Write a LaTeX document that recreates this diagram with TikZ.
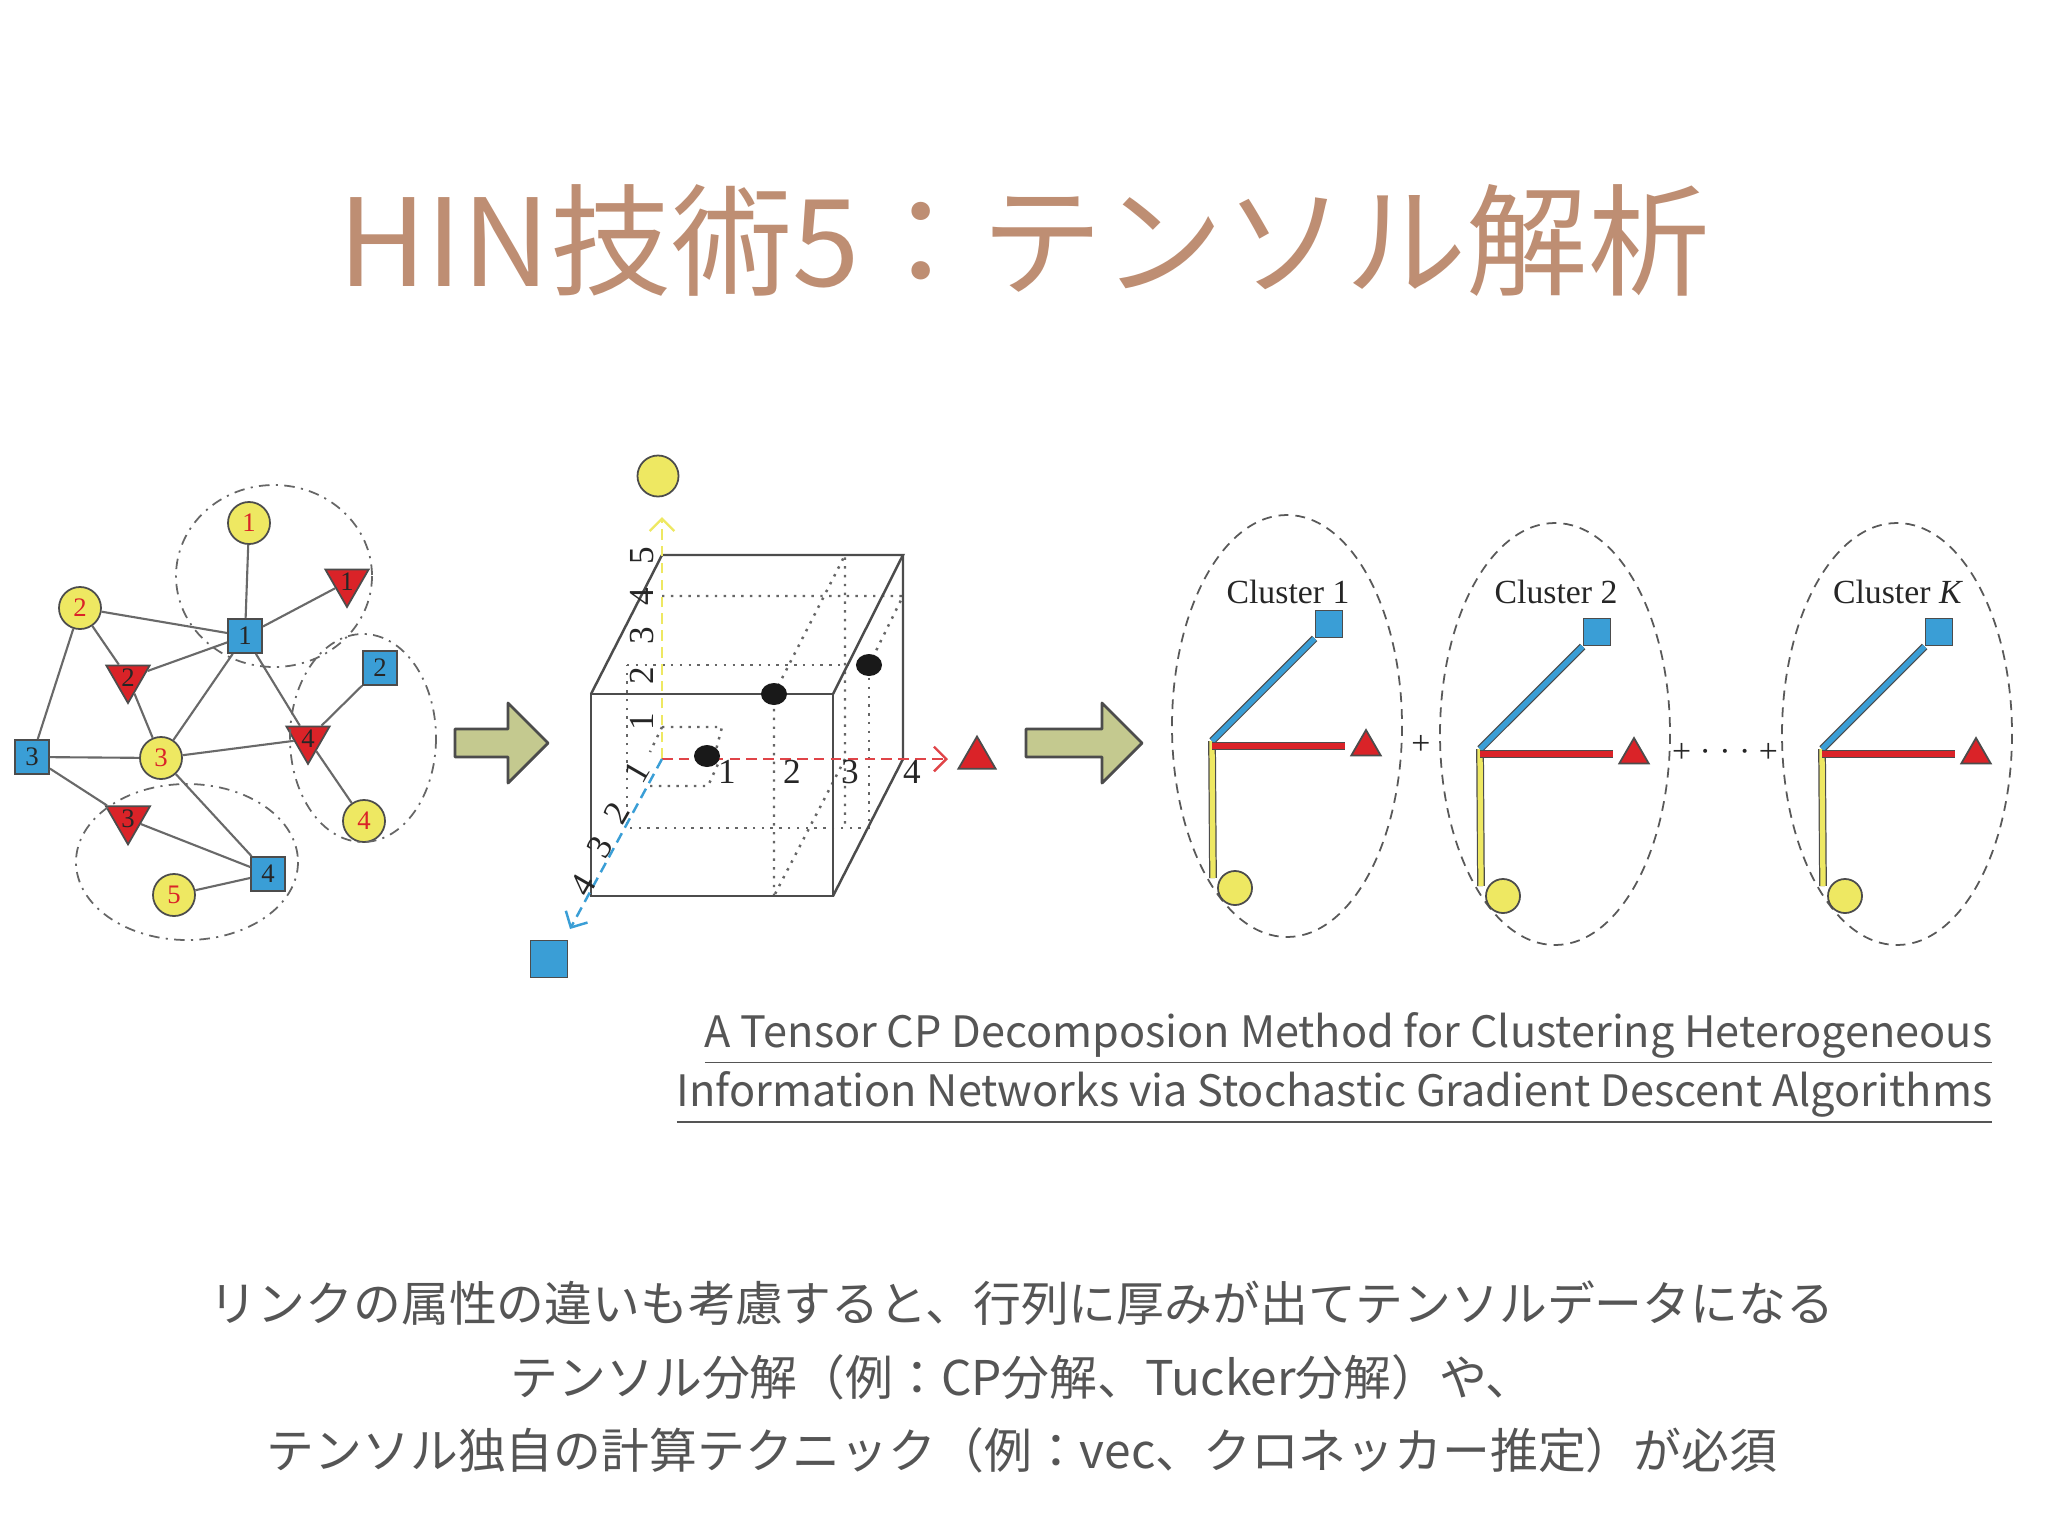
\documentclass[tikz,border=0pt]{standalone}
\usepackage{fontspec}
\setmainfont{Noto Sans CJK JP}
\newfontfamily\figserif{Liberation Serif}
\usetikzlibrary{arrows.meta,shapes.geometric}
\definecolor{titlebrown}{RGB}{190,142,115}
\definecolor{textgray}{RGB}{85,85,85}
\definecolor{nodeyellow}{RGB}{238,232,98}
\definecolor{nodeblue}{RGB}{58,158,214}
\definecolor{nodered}{RGB}{218,35,40}
\definecolor{arrowgreen}{RGB}{196,201,143}
\definecolor{edgegray}{RGB}{105,105,105}

\begin{document}
\begin{tikzpicture}[
    x=0.01cm, y=-0.01cm,
    title/.style={text=titlebrown, inner sep=0pt, font=\fontsize{34.5}{40}\selectfont},
    body/.style={text=textgray, align=center, inner sep=0pt, font=\fontsize{13.6}{20.8}\selectfont},
    ref/.style={text=textgray, align=right, anchor=east, inner sep=0pt, font=\fontsize{12.3}{16.8}\selectfont},
    circ/.style={circle, draw=black!70, fill=nodeyellow, line width=0.5pt, inner sep=0pt, minimum size=0.42cm, text=nodered, font=\figserif\fontsize{7.6}{8}\selectfont},
    sq/.style={rectangle, draw=black!70, fill=nodeblue, line width=0.5pt, inner sep=0pt, minimum size=0.34cm, text=black!85, font=\figserif\fontsize{7.6}{8}\selectfont},
    tri/.style={regular polygon, regular polygon sides=3, shape border rotate=180, draw=black!70, fill=nodered, line width=0.5pt, inner sep=0pt, minimum size=0.38cm, text=black!85, font=\figserif\fontsize{7.6}{8}\selectfont},
    edge/.style={draw=edgegray, line width=0.6pt},
    group/.style={draw=black!60, line width=0.5pt, dash pattern=on 3pt off 1.8pt on 0.6pt off 1.8pt},
    bigarrow/.style={draw=black!70, fill=arrowgreen, line width=0.8pt, line join=round},
    cube/.style={draw=black!70, line width=0.7pt},
    grid/.style={draw=black!60, line width=0.7pt, dash pattern=on 0.7pt off 1.8pt},
    axis/.style={line width=0.7pt, dash pattern=on 3pt off 1.8pt, -{Straight Barb[length=3.5pt, width=7pt]}},
    dot/.style={ellipse, fill=black!90, inner sep=0pt, minimum width=0.26cm, minimum height=0.22cm},
    tick/.style={inner sep=0pt, text=black!85, font=\figserif\fontsize{10}{11}\selectfont},
    clus/.style={draw=black!65, line width=0.5pt, dash pattern=on 2.8pt off 2pt},
    clabel/.style={inner sep=0pt, text=black!85, font=\figserif\fontsize{9.6}{11}\selectfont},
    csq/.style={rectangle, draw=black!70, fill=nodeblue, line width=0.5pt, inner sep=0pt, minimum size=0.27cm},
    ctri/.style={regular polygon, regular polygon sides=3, draw=black!70, fill=nodered, line width=0.5pt, inner sep=0pt, minimum size=0.34cm},
    ccirc/.style={circle, draw=black!70, fill=nodeyellow, line width=0.5pt, inner sep=0pt, minimum size=0.34cm},
    bar/.style={draw=black!70, line width=0.35pt, double=#1, double distance=1.5pt}
  ]
  \useasboundingbox (0,0) rectangle (2048,1536);
  \fill[white] (0,0) rectangle (2048,1536);

  \node[title] (title) at (1024,240) {HIN技術5：テンソル解析};

  \node[circ] (c1) at (249,523) {1};
  \node[circ] (c2) at (80,608) {2};
  \node[circ] (c3) at (161,758) {3};
  \node[circ] (c4) at (364,821) {4};
  \node[circ] (c5) at (174,895) {5};
  \node[sq] (s1) at (245,636) {1};
  \node[sq] (s2) at (380,668) {2};
  \node[sq] (s3) at (32,757) {3};
  \node[sq] (s4) at (268,874) {4};
  \node[tri] (t1) at (347,582) {1};
  \node[tri] (t2) at (128,678) {2};
  \node[tri] (t3) at (128,819) {3};
  \node[tri] (t4) at (308,739) {4};

  \draw[edge] (c1) -- (s1);
  \draw[edge] (c2) -- (s1);
  \draw[edge] (s1) -- (t1);
  \draw[edge] (t2) -- (s1);
  \draw[edge] (c2) -- (t2);
  \draw[edge] (t2) -- (c3);
  \draw[edge] (c2) -- (s3);
  \draw[edge] (s1) -- (c3);
  \draw[edge] (s1) -- (t4);
  \draw[edge] (s2) -- (t4);
  \draw[edge] (t4) -- (c4);
  \draw[edge] (s3) -- (c3);
  \draw[edge] (c3) -- (t4);
  \draw[edge] (s3) -- (t3);
  \draw[edge] (t3) -- (s4);
  \draw[edge] (c3) -- (s4);
  \draw[edge] (c5) -- (s4);

  \draw[group] (274,576) ellipse [x radius=98, y radius=91];
  \draw[group] (363,738) ellipse [x radius=73, y radius=104];
  \draw[group] (187,862) ellipse [x radius=111, y radius=78];

  \draw[bigarrow] (455,729) -- (508,729) -- (508,703) -- (548,743) -- (508,783) -- (508,757) -- (455,757) -- cycle;
  \draw[bigarrow] (1026,729) -- (1102,729) -- (1102,703) -- (1142,743) -- (1102,783) -- (1102,757) -- (1026,757) -- cycle;

  % tensor cube
  \draw[grid] (662,596) -- (903,596) -- (869,665);
  \draw[grid] (627,665) -- (869,665) -- (869,828) -- (627,828) -- cycle;
  \draw[grid] (774,896) -- (774,694) -- (845,555) -- (845,828);
  \draw[grid] (845,759) -- (774,896);
  \draw[grid] (662,727) -- (722,727) -- (716,750);
  \draw[grid] (650,786) -- (708,786) -- (718,764);
  \draw[grid] (662,727) -- (650,752);
  \draw[cube] (591,694) rectangle (833,896);
  \draw[cube] (591,694) -- (662,555) -- (903,555) -- (833,694);
  \draw[cube] (903,555) -- (903,759) -- (833,896);

  \coordinate (o) at (662,759);
  \coordinate (ytip) at (662,517);
  \coordinate (xtip) at (948,759);
  \coordinate (ztip) at (570,929);
  \draw[axis, draw=nodeyellow] (o) -- (ytip);
  \draw[axis, draw=nodered!85] (o) -- (xtip);
  \draw[axis, draw=nodeblue] (o) -- (ztip);

  \node[dot] (pa) at (707,756) {};
  \node[dot] (pb) at (774,694) {};
  \node[dot] (pc) at (869,665) {};

  \node[circ, minimum size=0.41cm] (ycirc) at (658,476) {};
  \node[ctri, minimum size=0.43cm] (xtri) at (977,758) {};
  \node[csq, minimum size=0.37cm] (zsq) at (549,959) {};

  \foreach \n/\yy in {1/722,2/676,3/636,4/597,5/556}
    \node[tick, rotate=90] (yl\n) at (642,\yy) {\n};
  \foreach \n/\xx in {1/727,2/792,3/850,4/912}
    \node[tick] (xl\n) at (\xx,772) {\n};
  \foreach \n/\xx/\yy in {1/637/772,2/617/813,3/600/847,4/583/885}
    \node[tick, rotate=60] (zl\n) at (\xx,\yy) {\n};

  % clusters
  \foreach \dx/\dy/\lab [count=\k] in {0/0/1, 268/8/2, 610/8/{\textit{K}}} {
    \begin{scope}[shift={(\dx,\dy)}]
      \draw[clus] (1287,726) ellipse [x radius=115, y radius=211];
      \node[clabel] (cl\k) at (1288,{592-\dy}) {Cluster \lab};
      \coordinate (co\k) at (1212,741);
      \coordinate (ro\k) at (1212,746);
      \coordinate (re\k) at (1345,746);
      \coordinate (ye\k) at (1213,878);
      \node[csq] (cs\k) at (1329,624) {};
      \node[ctri] (ct\k) at (1366,747) {};
      \node[ccirc] (cc\k) at (1235,888) {};
      \draw[bar=nodeyellow] (co\k) -- (ye\k);
      \draw[bar=nodeblue] (co\k) -- (cs\k.south west);
      \draw[bar=nodered] (ro\k) -- (re\k);
    \end{scope}
  }
  \node[clabel] (plus1) at (1421,745) {+};
  \node[clabel] (plus2) at (1725,753) {+ · · · +};

  \node[ref] (paper) at (1993,1068) {\underline{A Tensor CP Decomposion Method for Clustering Heterogeneous}\\\underline{Information Networks via Stochastic Gradient Descent Algorithms}};

  \node[body] (note) at (1022,1377) {リンクの属性の違いも考慮すると、行列に厚みが出てテンソルデータになる\\テンソル分解（例：CP分解、Tucker分解）や、\\テンソル独自の計算テクニック（例：vec、クロネッカー推定）が必須};
\end{tikzpicture}
\end{document}
